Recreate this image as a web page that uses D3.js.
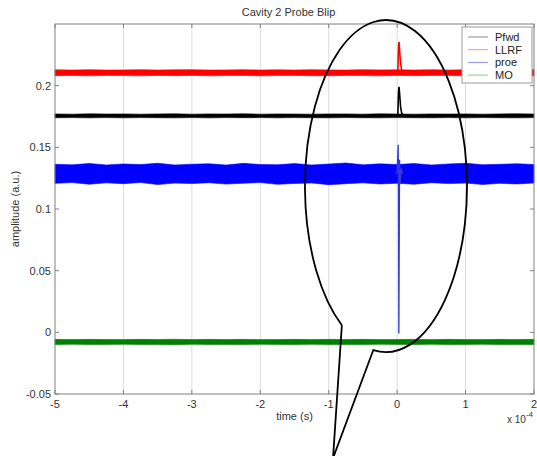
<!DOCTYPE html>
<html><head><meta charset="utf-8">
<script src="https://cdn.jsdelivr.net/npm/d3@7"></script>
<style>body{margin:0;background:#fff}svg{display:block;font-family:"Liberation Sans",Arial,sans-serif}</style>
</head><body><svg id="c" width="537" height="456"></svg>
<script>
// time axis in units of 1e-4 s
const xTicks = [-5,-4,-3,-2,-1,0,1,2];
const yTicks = [-0.05,0,0.05,0.1,0.15,0.2];
const yTickLabels = ["-0.05","0","0.05","0.1","0.15","0.2"];
const seriesNames = ["Pfwd","LLRF","proe","MO"];
const seriesColors = ["#000000","#ff0000","#0000ff","#008000"];
// noise envelopes (upper / lower) sampled along the trace
const tGrid = [-5,-4.75,-4.5,-4.25,-4,-3.75,-3.5,-3.25,-3,-2.75,-2.5,-2.25,-2,-1.75,-1.5,-1.25,-1,-0.75,-0.5,-0.25,0,0.25,0.5,0.75,1,1.25,1.5,1.75,2];
const pfwdHi = [0.1771,0.1769,0.1772,0.1770,0.1771,0.1769,0.1771,0.1772,0.1769,0.1771,0.1770,0.1772,0.1769,0.1771,0.1770,0.1769,0.1771,0.1771,0.1769,0.1772,0.1770,0.1769,0.1771,0.1770,0.1771,0.1769,0.1771,0.1772,0.1770];
const pfwdLo = [0.1740,0.1741,0.1739,0.1741,0.1739,0.1741,0.1740,0.1739,0.1741,0.1739,0.1741,0.1740,0.1741,0.1739,0.1741,0.1740,0.1739,0.1741,0.1740,0.1739,0.1741,0.1740,0.1739,0.1741,0.1739,0.1741,0.1740,0.1739,0.1741];
const llrfHi = [0.2129,0.2127,0.2130,0.2127,0.2128,0.2130,0.2127,0.2129,0.2130,0.2127,0.2128,0.2130,0.2127,0.2129,0.2127,0.2130,0.2128,0.2127,0.2130,0.2128,0.2129,0.2127,0.2130,0.2127,0.2129,0.2130,0.2127,0.2128,0.2130];
const llrfLo = [0.2081,0.2083,0.2080,0.2083,0.2082,0.2080,0.2083,0.2081,0.2083,0.2080,0.2082,0.2083,0.2080,0.2082,0.2083,0.2081,0.2080,0.2083,0.2082,0.2080,0.2083,0.2081,0.2083,0.2082,0.2080,0.2083,0.2081,0.2082,0.2080];
const proeHi = [0.1362,0.1358,0.1369,0.1357,0.1365,0.1360,0.1371,0.1357,0.1363,0.1367,0.1356,0.1370,0.1361,0.1359,0.1368,0.1357,0.1364,0.1373,0.1358,0.1366,0.1360,0.1369,0.1357,0.1365,0.1371,0.1359,0.1362,0.1367,0.1360];
const proeLo = [0.1208,0.1214,0.1201,0.1212,0.1205,0.1215,0.1198,0.1210,0.1206,0.1213,0.1202,0.1209,0.1214,0.1200,0.1207,0.1211,0.1197,0.1205,0.1212,0.1203,0.1209,0.1201,0.1213,0.1206,0.1210,0.1199,0.1208,0.1203,0.1211];
const moHi = [-0.0057,-0.0059,-0.0057,-0.0058,-0.0059,-0.0057,-0.0058,-0.0056,-0.0059,-0.0057,-0.0058,-0.0057,-0.0059,-0.0058,-0.0057,-0.0059,-0.0057,-0.0058,-0.0057,-0.0059,-0.0058,-0.0057,-0.0059,-0.0057,-0.0058,-0.0059,-0.0057,-0.0058,-0.0057];
const moLo = [-0.0099,-0.0097,-0.0099,-0.0098,-0.0097,-0.0099,-0.0098,-0.0100,-0.0097,-0.0099,-0.0098,-0.0099,-0.0097,-0.0098,-0.0099,-0.0097,-0.0099,-0.0098,-0.0099,-0.0097,-0.0098,-0.0099,-0.0097,-0.0099,-0.0098,-0.0097,-0.0099,-0.0098,-0.0099];
// the blip near t = 0
const pfwdBlip = [[-0.01,0.1755],[0.01,0.1762],[0.02,0.1950],[0.028,0.1990],[0.038,0.1920],[0.05,0.1830],[0.065,0.1780],[0.09,0.1758]];
const llrfBlip = [[-0.01,0.2105],[0.01,0.2115],[0.02,0.2320],[0.028,0.2355],[0.038,0.2270],[0.05,0.2180],[0.065,0.2130],[0.09,0.2108]];
const proeBlip = [[-0.03,0.1285],[0.0,0.1300],[0.015,0.1520],[0.02,0.1100],[0.025,-0.0010],[0.03,0.0700],[0.035,0.1400],[0.045,0.1200],[0.06,0.1330],[0.08,0.1285]];
// callout (data units)
const callout = {cx:-0.163, cy:0.1186, rx:1.184, ry:0.1346, a1:99, a2:123, tipX:-0.937, tipY:-0.102};

const svg = d3.select("#c");
const W=537,H=456, L=55,R=534,T=24,B=394;
const x = d3.scaleLinear().domain([-5,2]).range([L,R]);
const y = d3.scaleLinear().domain([-0.05,0.25]).range([B,T]);

svg.append("rect").attr("width",W).attr("height",H).attr("fill","#fff");
// grid
svg.append("g").selectAll("line").data(xTicks.slice(1,-1)).join("line")
  .attr("x1",d=>x(d)).attr("x2",d=>x(d)).attr("y1",T).attr("y2",B)
  .attr("stroke","#dcdcdc").attr("stroke-width",1);

const bands = [[pfwdHi,pfwdLo],[llrfHi,llrfLo],[proeHi,proeLo],[moHi,moLo]];
const blips = [pfwdBlip,llrfBlip,proeBlip,null];
const area = d3.area().x((d,i)=>x(tGrid[i])).y0(d=>y(d[1])).y1(d=>y(d[0]));
const line = d3.line().x(d=>x(d[0])).y(d=>y(d[1]));
bands.forEach((b,k)=>{
  const pts = tGrid.map((t,i)=>[b[0][i],b[1][i]]);
  svg.append("path").attr("d",area(pts)).attr("fill",seriesColors[k])
    .attr("stroke",seriesColors[k]).attr("stroke-width",0.6);
  if(blips[k]) svg.append("path").attr("d",line(blips[k])).attr("fill","none")
    .attr("stroke",k===2?"#3535d8":seriesColors[k]).attr("stroke-width",k===2?1.3:1.6);
});

// axes box
svg.append("rect").attr("x",L).attr("y",T).attr("width",R-L).attr("height",B-T)
  .attr("fill","none").attr("stroke","#808080").attr("stroke-width",1);
const tk = svg.append("g").attr("stroke","#808080");
xTicks.forEach(d=>{
  tk.append("line").attr("x1",x(d)).attr("x2",x(d)).attr("y1",B).attr("y2",B-4);
  tk.append("line").attr("x1",x(d)).attr("x2",x(d)).attr("y1",T).attr("y2",T+4);
});
yTicks.forEach(d=>{
  tk.append("line").attr("x1",L).attr("x2",L+4).attr("y1",y(d)).attr("y2",y(d));
  tk.append("line").attr("x1",R).attr("x2",R-4).attr("y1",y(d)).attr("y2",y(d));
});
const lab = svg.append("g").attr("font-size",11).attr("fill","#333");
xTicks.forEach(d=>lab.append("text").attr("x",x(d)).attr("y",B+14).attr("text-anchor","middle").text(d));
yTicks.forEach((d,i)=>lab.append("text").attr("x",L-4).attr("y",y(d)+4).attr("text-anchor","end").text(yTickLabels[i]));
lab.append("text").attr("x",(L+R)/2-6).attr("y",16).attr("text-anchor","middle").text("Cavity 2 Probe Blip");
lab.append("text").attr("x",(L+R)/2).attr("y",420).attr("text-anchor","middle").text("time (s)");
lab.append("text").attr("transform","translate(19,"+((T+B)/2)+") rotate(-90)").attr("text-anchor","middle").text("amplitude (a.u.)");
const ex = lab.append("text").attr("x",507).attr("y",423).attr("font-size",10);
ex.append("tspan").text("x 10");
ex.append("tspan").attr("dy",-6).attr("font-size",8).text("-4");

// legend
const lg = svg.append("g");
const lx = R-72, ly = T+3;
lg.append("rect").attr("x",lx).attr("y",ly).attr("width",70).attr("height",56)
  .attr("fill","#fff").attr("stroke","#9a9a9a");
seriesNames.forEach((n,i)=>{
  const yy = ly+10+i*12.7;
  lg.append("line").attr("x1",lx+6).attr("x2",lx+26).attr("y1",yy).attr("y2",yy)
    .attr("stroke",seriesColors[i]).attr("stroke-opacity",0.45).attr("stroke-width",1);
  lg.append("text").attr("x",lx+33).attr("y",yy+4).attr("font-size",11).attr("fill","#222").text(n);
});

// callout balloon
const sx = Math.abs(x(callout.rx)-x(0)), sy = Math.abs(y(callout.ry)-y(0));
const ccx = x(callout.cx), ccy = y(callout.cy);
const pt = a=>[ccx+sx*Math.cos(a*Math.PI/180), ccy+sy*Math.sin(a*Math.PI/180)];
const P1 = pt(callout.a1), P2 = pt(callout.a2);
const tip = [x(callout.tipX), y(callout.tipY)];
const d = `M${P2[0]},${P2[1]} L${tip[0]},${tip[1]} L${P1[0]},${P1[1]} A${sx},${sy} 0 1 0 ${P2[0]},${P2[1]}`;
svg.append("path").attr("d",d).attr("fill","none").attr("stroke","#000").attr("stroke-width",1.8);
</script></body></html>
